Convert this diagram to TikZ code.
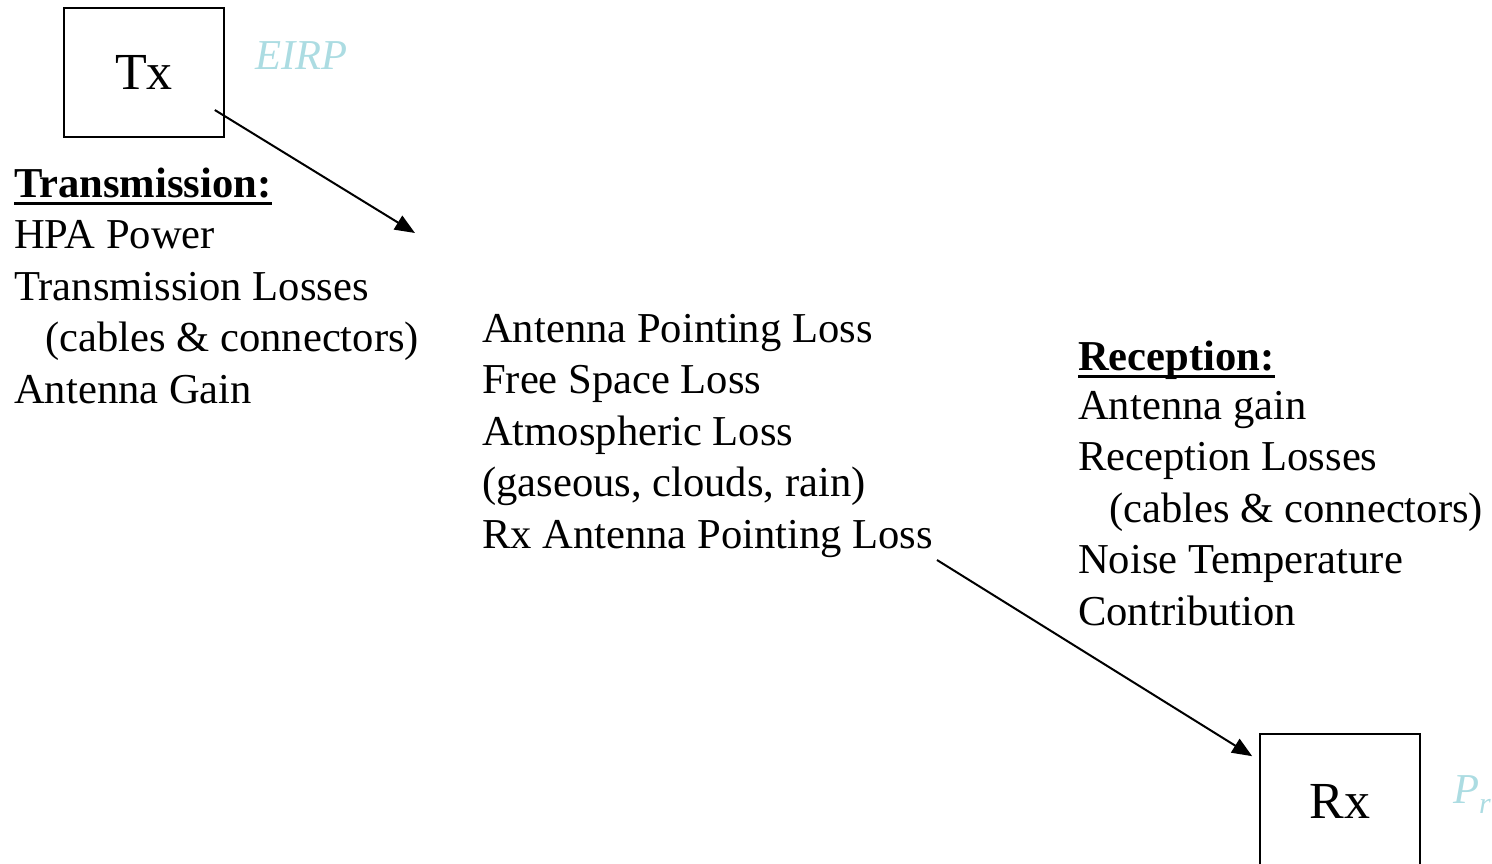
\documentclass[tikz,border=0pt]{standalone}
\usepackage{fontspec}
\setmainfont{Liberation Serif}
\usetikzlibrary{arrows.meta, positioning, calc}
\definecolor{paleblue}{RGB}{172,220,226}
\begin{document}
\begin{tikzpicture}[
		x=1pt, y=-1pt,
		unitbox/.style={
			rectangle,
			draw=black,
			line width=1.6pt,
			minimum width=160pt,
			minimum height=129pt,
			font=\fontsize{52}{60}\selectfont
		},
		itemlist/.style={
			anchor=base west,
			align=left,
			inner sep=0pt,
			font=\fontsize{42.6}{51.5}\selectfont
		},
		heading/.style={
			anchor=base west,
			inner sep=0pt,
			font=\fontsize{42.6}{51.5}\selectfont\bfseries
		},
		gain/.style={
			anchor=base west,
			inner sep=0pt,
			text=paleblue,
			font=\fontsize{42.6}{51.5}\selectfont\itshape
		},
		arrow/.style={
			-{Triangle[length=20pt, width=16pt]},
			line width=2pt
		}
		]
		
		% Frame of the slide
		\path[use as bounding box, clip] (0,0) rectangle (1492,863);
		
		% Terminals
		\node (tx) [unitbox] at (144,72.5) {Tx};
		\node (rx) [unitbox, minimum height=135pt] at (1340,801.5) {Rx};
		\node (eirp) [gain] at (255,69) {EIRP};
		\node (pr) [gain] at (1453,803) {P\raisebox{-10pt}{\fontsize{30}{30}\selectfont r}};
		
		% Budget terms (anchored on the last line)
		\node (txhead) [heading] at (14,197) {Transmission:};
		\node (txlist) [itemlist] at (14,403) {HPA Power\\Transmission Losses\\\hspace*{31pt}(cables \& connectors)\\Antenna Gain};
		\node (losses) [itemlist] at (482,548) {Antenna Pointing Loss\\Free Space Loss\\Atmospheric Loss\\(gaseous, clouds, rain)\\Rx Antenna Pointing Loss};
		\node (rxhead) [heading] at (1078,370) {Reception:};
		\node (rxlist) [itemlist] at (1078,625) {Antenna gain\\Reception Losses\\\hspace*{31pt}(cables \& connectors)\\Noise Temperature\\Contribution};
		
		% Underlines
		\draw[line width=3pt] ($(txhead.base west)+(0,6)$) -- ($(txhead.base east)+(0,6)$);
		\draw[line width=3pt] ($(rxhead.base west)+(0,6)$) -- ($(rxhead.base east)+(0,6)$);
		
		% Link arrows
		\coordinate (txout) at ($(tx.east)+(-10,37.5)$);
		\coordinate (linkin) at (415,233);
		\coordinate (linkout) at (937,560);
		\coordinate (rxin) at ($(rx.north west)+(-7,23)$);
		\draw [arrow] (txout) -- (linkin);
		\draw [arrow] (linkout) -- (rxin);
		
	\end{tikzpicture}
\end{document}
